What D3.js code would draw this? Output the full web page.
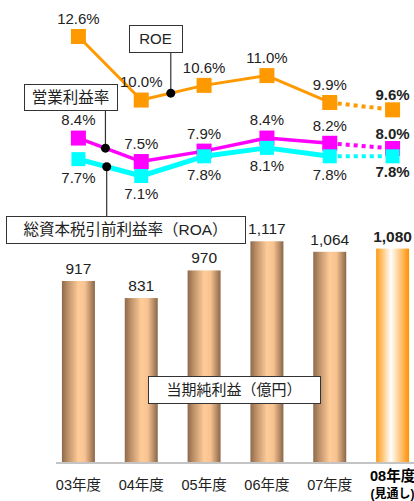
<!DOCTYPE html>
<html>
<head>
<meta charset="utf-8">
<script src="https://cdn.jsdelivr.net/npm/d3@7/dist/d3.min.js"></script>
<style>
  html, body { margin: 0; padding: 0; background: #fff; }
  svg { display: block; font-family: "Liberation Sans", Arial, "Noto Sans CJK JP", sans-serif; }
</style>
</head>
<body>
<div class="chart"></div>
<script>
// Fiscal years and series
var years = ["03年度", "04年度", "05年度", "06年度", "07年度", "08年度"];
var netIncome = [917, 831, 970, 1117, 1064, 1080];     // 当期純利益（億円）
var roe = [12.6, 10.0, 10.6, 11.0, 9.9, 9.6];           // ROE %
var opMargin = [8.4, 7.5, 7.9, 8.4, 8.2, 8.0];          // 営業利益率 %
var roa = [7.7, 7.1, 7.8, 8.1, 7.8, 7.8];               // 総資本税引前利益率 %
var forecastIndex = 5;  // 08年度 is the outlook

var W = 414, H = 501;

var svg = d3.select(".chart").append("svg")
    .attr("width", W)
    .attr("height", H);

var defs = svg.append("defs");

// cylinder look for actual years
var gBrown = defs.append("linearGradient").attr("id", "brown");
[[0, "#8e6a4b"], [0.18, "#bd9069"], [0.5, "#ffcc99"], [0.7, "#f6c291"], [1, "#8a6648"]]
    .forEach(function(s) {
        gBrown.append("stop").attr("offset", s[0]).attr("stop-color", s[1]);
    });
// orange / white for the forecast
var gOrange = defs.append("linearGradient").attr("id", "orange");
[[0, "#ff9a10"], [0.45, "#ffffff"], [1, "#ff9000"]]
    .forEach(function(s) {
        gOrange.append("stop").attr("offset", s[0]).attr("stop-color", s[1]);
    });

// scales
var x = d3.scaleBand()
    .domain(years)
    .range([47, 424])
    .paddingInner(0.475)
    .paddingOuter(0.2375);

function cx(i) { return x(years[i]) + x.bandwidth() / 2; }

var yBar = d3.scaleLinear().domain([0, 1200]).range([463, 224.8]);
// the percentage lines sit on broken scales of their own
var yRoe = d3.scaleLinear().domain([9, 13]).range([124.5, 26.7]);
var yOp = d3.scaleLinear().domain([7, 9]).range([174.6, 122.4]);
var yRoa = d3.scaleLinear().domain([7, 9]).range([178.8, 122.6]);

// ---- bars ----
var bars = svg.append("g");
bars.selectAll("rect")
    .data(netIncome)
    .enter().append("rect")
    .attr("x", function(d, i) { return x(years[i]); })
    .attr("y", function(d) { return yBar(d); })
    .attr("width", x.bandwidth())
    .attr("height", function(d) { return yBar(0) - yBar(d); })
    .attr("fill", function(d, i) { return i === forecastIndex ? "url(#orange)" : "url(#brown)"; });

bars.selectAll("text")
    .data(netIncome)
    .enter().append("text")
    .attr("x", function(d, i) { return cx(i); })
    .attr("y", function(d) { return yBar(d) - 7; })
    .attr("text-anchor", "middle")
    .attr("font-size", "15.5px")
    .attr("font-weight", function(d, i) { return i === forecastIndex ? "bold" : "normal"; })
    .attr("fill", "#222")
    .text(function(d) { return d3.format(",")(d); });

// baseline
svg.append("line")
    .attr("x1", 56).attr("x2", W)
    .attr("y1", yBar(0)).attr("y2", yBar(0))
    .attr("stroke", "#c4c4c4")
    .attr("stroke-width", 2);

// x axis labels
var xAxis = d3.axisBottom(x).tickSize(0).tickPadding(0);
var axisG = svg.append("g")
    .attr("transform", "translate(0," + yBar(0) + ")")
    .call(xAxis);
axisG.select(".domain").remove();
axisG.selectAll(".tick text")
    .attr("y", 27)
    .attr("dy", 0)
    .attr("font-size", "14.5px")
    .attr("font-family", "\"Liberation Sans\", Arial, \"Noto Sans CJK JP\", sans-serif")
    .attr("fill", "#222")
    .each(function(d, i) {
        if (i === forecastIndex) {
            d3.select(this)
                .attr("y", 18)
                .attr("font-weight", "bold")
                .attr("fill", "#000");
        }
    });
axisG.selectAll(".tick").filter(function(d, i) { return i === forecastIndex; })
    .append("text")
    .attr("y", 34.5)
    .attr("text-anchor", "middle")
    .attr("font-size", "12px")
    .attr("font-weight", "bold")
    .attr("fill", "#000")
    .attr("font-family", "\"Liberation Sans\", \"Noto Sans CJK JP\", sans-serif")
    .text("(見通し)");

// ---- lines ----
function drawSeries(values, yScale, color, lw, dashW) {
    var g = svg.append("g");
    var solid = d3.line()
        .x(function(d, i) { return cx(i); })
        .y(function(d) { return yScale(d); });

    g.append("path")
        .datum(values.slice(0, forecastIndex))
        .attr("d", solid)
        .attr("fill", "none")
        .attr("stroke", color)
        .attr("stroke-width", lw)
        .attr("stroke-linejoin", "round");

    // outlook segment is dotted
    g.append("line")
        .attr("x1", cx(forecastIndex - 1)).attr("y1", yScale(values[forecastIndex - 1]))
        .attr("x2", cx(forecastIndex)).attr("y2", yScale(values[forecastIndex]))
        .attr("stroke", color)
        .attr("stroke-width", dashW)
        .attr("stroke-dasharray", "4,4");
    return g;
}

function drawMarkers(g, values, yScale, color, size) {
    g.selectAll("rect.m")
        .data(values)
        .enter().append("rect")
        .attr("class", "m")
        .attr("x", function(d, i) { return cx(i) - size / 2; })
        .attr("y", function(d) { return yScale(d) - size / 2; })
        .attr("width", size)
        .attr("height", size)
        .attr("fill", color);
}

function drawLabels(values, yScale, above) {
    svg.append("g").selectAll("text")
        .data(values)
        .enter().append("text")
        .attr("x", function(d, i) { return cx(i); })
        .attr("y", function(d, i) {
            var off = i === forecastIndex ? 15 : 18;
            return above ? yScale(d) - off : yScale(d) + off;
        })
        .attr("dy", "0.36em")
        .attr("text-anchor", "middle")
        .attr("font-size", "15px")
        .attr("font-weight", function(d, i) { return i === forecastIndex ? "bold" : "normal"; })
        .attr("fill", "#222")
        .text(function(d) { return d.toFixed(1) + "%"; });
}

var gRoe = drawSeries(roe, yRoe, "#ff9900", 3, 4);
var gOp = drawSeries(opMargin, yOp, "#ff00ff", 3.5, 4);
var gRoa = drawSeries(roa, yRoa, "#00ffff", 5, 4);
drawMarkers(gRoe, roe, yRoe, "#ff9900", 15);
drawMarkers(gOp, opMargin, yOp, "#ff00ff", 15);
drawMarkers(gRoa, roa, yRoa, "#00ffff", 14);

drawLabels(roe, yRoe, true);
drawLabels(opMargin, yOp, true);
drawLabels(roa, yRoa, false);

// ---- callouts ----
function pointOn(values, yScale, i, t) {
    var x0 = cx(i), x1 = cx(i + 1);
    var y0 = yScale(values[i]), y1 = yScale(values[i + 1]);
    return [x0 + (x1 - x0) * t, y0 + (y1 - y0) * t];
}

function callout(text, box, p, fontSize) {
    var g = svg.append("g");
    var boxEdge = p[1] > box.y ? box.y + box.h : box.y;
    g.append("line")
        .attr("x1", p[0]).attr("x2", p[0])
        .attr("y1", boxEdge).attr("y2", p[1])
        .attr("stroke", "#333")
        .attr("stroke-width", 1.2);
    g.append("circle")
        .attr("cx", p[0]).attr("cy", p[1])
        .attr("r", 4.5)
        .attr("fill", "#000");
    g.append("rect")
        .attr("x", box.x + 0.5).attr("y", box.y + 0.5)
        .attr("width", box.w).attr("height", box.h)
        .attr("fill", "#fff")
        .attr("stroke", "#333")
        .attr("stroke-width", 1);
    g.append("text")
        .attr("x", box.x + box.w / 2)
        .attr("y", box.y + box.h / 2)
        .attr("dy", "0.36em")
        .attr("text-anchor", "middle")
        .attr("font-size", fontSize)
        .attr("fill", "#222")
        .text(text);
}

callout("ROE", {x: 129, y: 25, w: 53, h: 27}, pointOn(roe, yRoe, 1, 0.47), "15px");
callout("営業利益率", {x: 24, y: 84, w: 93, h: 26}, pointOn(opMargin, yOp, 0, 0.43), "15.5px");
callout("総資本税引前利益率（ROA）", {x: 6, y: 216, w: 239, h: 27}, pointOn(roa, yRoa, 0, 0.45), "15.5px");

// net income label box (no pointer)
var nb = {x: 148, y: 376, w: 172, h: 27};
svg.append("rect")
    .attr("x", nb.x + 0.5).attr("y", nb.y + 0.5)
    .attr("width", nb.w).attr("height", nb.h)
    .attr("fill", "#fff")
    .attr("stroke", "#333");
svg.append("text")
    .attr("x", nb.x + nb.w / 2)
    .attr("y", nb.y + nb.h / 2)
    .attr("dy", "0.36em")
    .attr("text-anchor", "middle")
    .attr("font-size", "15px")
    .attr("fill", "#222")
    .text("当期純利益（億円）");
</script>
</body>
</html>
